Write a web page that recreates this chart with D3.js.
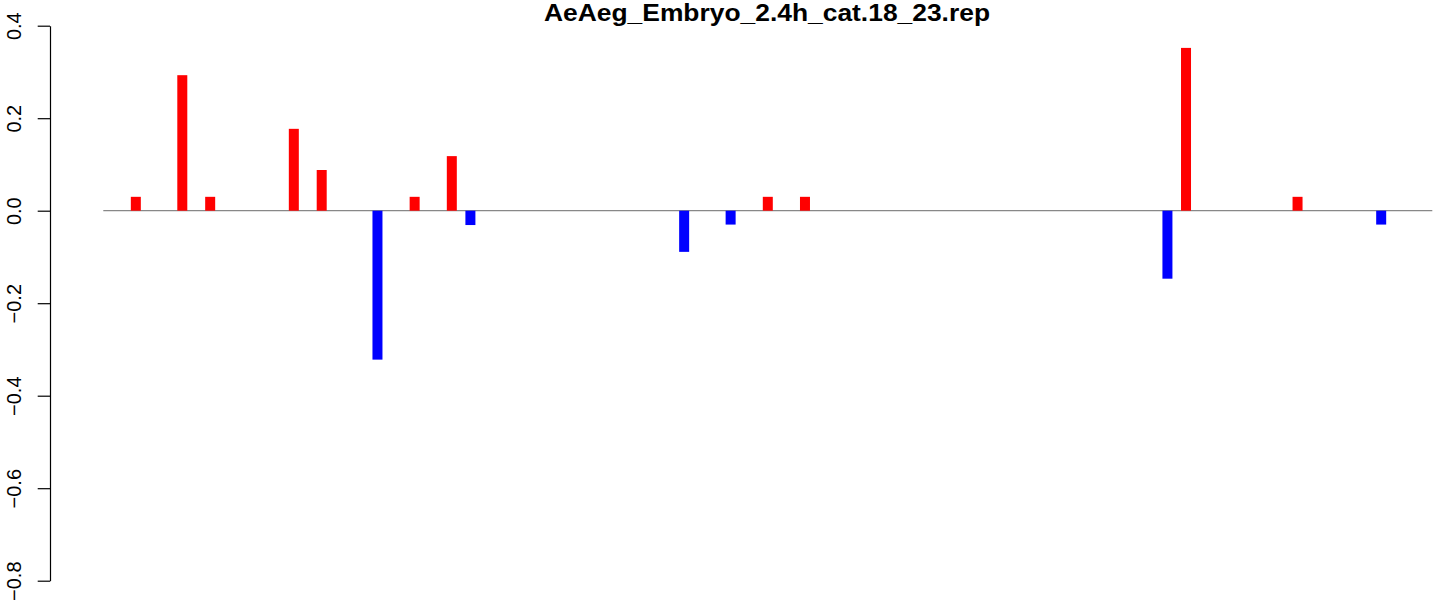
<!DOCTYPE html>
<html>
<head>
<meta charset="utf-8">
<script src="https://cdn.jsdelivr.net/npm/d3@7"></script>
<style>
  html, body { margin: 0; padding: 0; background: #fff; }
  svg { display: block; }
  text { font-family: "Liberation Sans", Arial, Helvetica, sans-serif; }
</style>
</head>
<body>
<svg id="chart" width="1444" height="603"></svg>
<script>
// ---- data ----
const title = "AeAeg_Embryo_2.4h_cat.18_23.rep";
const slotCount = 143;
const positions = [4, 9, 12, 21, 24, 30, 34, 38, 40, 63, 68, 72, 76, 115, 117, 129, 138];
const values = [0.03, 0.293, 0.03, 0.177, 0.088, -0.322, 0.03, 0.118, -0.031, -0.089, -0.03, 0.03, 0.03, -0.147, 0.352, 0.03, -0.03];
const tickValues = [-0.8, -0.6, -0.4, -0.2, 0.0, 0.2, 0.4];
const tickLabels = ["\u22120.8", "\u22120.6", "\u22120.4", "\u22120.2", "0.0", "0.2", "0.4"];

// ---- layout ----
const plotLeft = 103.3, plotRight = 1432.3;
const yTop = 25.7, yBottom = 580.7;
const axisX = 50;

const svg = d3.select("#chart");

const x = d3.scaleLinear().domain([0.5, slotCount + 0.5]).range([plotLeft, plotRight]);
const y = d3.scaleLinear().domain([-0.8, 0.4]).range([yBottom, yTop]);

// title
svg.append("text")
  .attr("x", 767)
  .attr("y", 21.3)
  .attr("text-anchor", "middle")
  .attr("font-weight", "bold")
  .attr("font-size", 24.5)
  .attr("textLength", 446)
  .attr("lengthAdjust", "spacingAndGlyphs")
  .attr("fill", "#000")
  .text(title);

// zero line
svg.append("line")
  .attr("x1", x(0.5)).attr("x2", x(slotCount + 0.5))
  .attr("y1", y(0)).attr("y2", y(0))
  .attr("stroke", "#888").attr("stroke-width", 1.3);

// bars
const barW = 10;
svg.append("g").selectAll("rect")
  .data(values)
  .join("rect")
  .attr("x", (d, i) => x(positions[i]) - barW / 2)
  .attr("width", barW)
  .attr("y", d => y(Math.max(0, d)))
  .attr("height", d => Math.abs(y(d) - y(0)))
  .attr("fill", d => d >= 0 ? "#FF0000" : "#0000FF");

// y axis
const axis = d3.axisLeft(y)
  .tickValues(tickValues)
  .tickFormat((d, i) => tickLabels[i])
  .tickSize(12.3)
  .tickSizeOuter(0);

const gAxis = svg.append("g")
  .attr("transform", `translate(${axisX},0)`)
  .call(axis);

gAxis.select(".domain").attr("stroke", "#000").attr("stroke-width", 1.2);
gAxis.selectAll(".tick line").attr("stroke", "#000").attr("stroke-width", 1.2);
gAxis.selectAll(".tick text")
  .attr("x", null)
  .attr("dy", null)
  .attr("text-anchor", "middle")
  .attr("transform", "translate(-29.3,0) rotate(-90)")
  .attr("font-size", 20)
  .attr("fill", "#000")
  .style("font-family", "'Liberation Sans', Arial, Helvetica, sans-serif");
</script>
</body>
</html>
